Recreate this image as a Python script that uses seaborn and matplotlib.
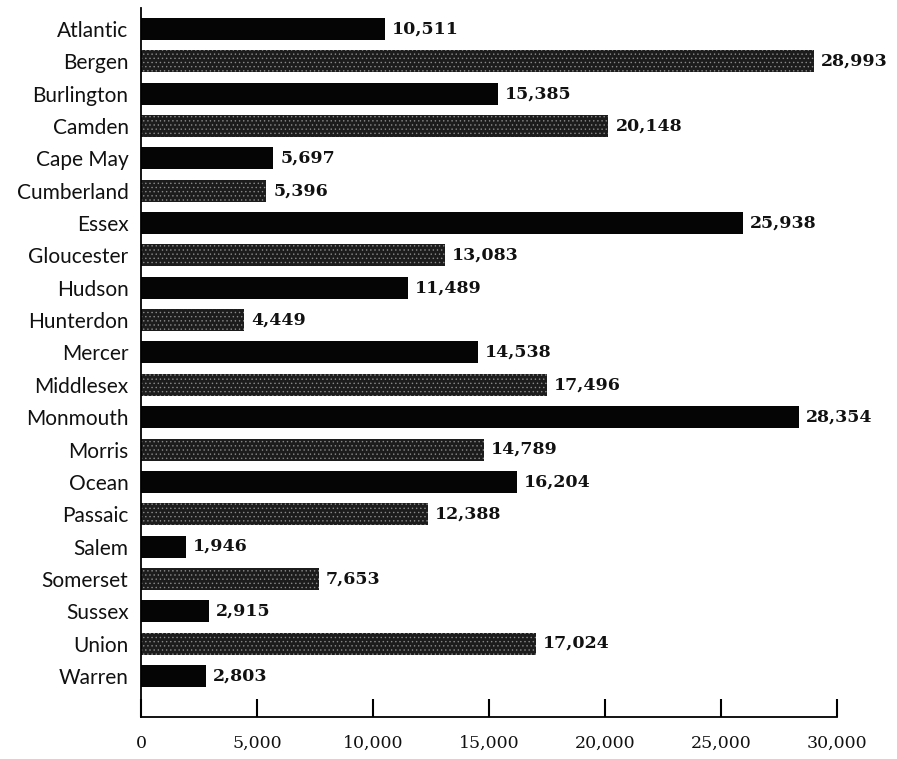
import matplotlib
matplotlib.use("Agg")
import matplotlib.pyplot as plt
import seaborn as sns
import pandas as pd

counties = ["Atlantic", "Bergen", "Burlington", "Camden", "Cape May", "Cumberland",
            "Essex", "Gloucester", "Hudson", "Hunterdon", "Mercer", "Middlesex",
            "Monmouth", "Morris", "Ocean", "Passaic", "Salem", "Somerset",
            "Sussex", "Union", "Warren"]
values = [10511, 28993, 15385, 20148, 5697, 5396, 25938, 13083, 11489, 4449,
          14538, 17496, 28354, 14789, 16204, 12388, 1946, 7653, 2915, 17024, 2803]
tick_values = [0, 5000, 10000, 15000, 20000, 25000, 30000]

SOLID = "#050505"
SCREEN = "#1c1c1c"
shades = [SOLID if i % 2 == 0 else SCREEN for i in range(len(counties))]

df = pd.DataFrame({"county": counties, "value": values})

sns.set_theme(style="white")
plt.rcParams["font.family"] = ["Lato", "DejaVu Sans"]
plt.rcParams["hatch.linewidth"] = 0.5

fig = plt.figure(figsize=(8.97, 7.59), dpi=100)
ax = fig.add_axes([141 / 897, 42 / 759, 696 / 897, 709 / 759])

sns.barplot(data=df, x="value", y="county", hue="county", palette=shades,
            width=0.68, legend=False, ax=ax, saturation=1)

# alternate bars get a speckled screen texture
for i, bar in enumerate(ax.patches):
    bar.set_linewidth(0)
    if i % 2 == 1:
        bar.set_hatch("....")
        bar.set_edgecolor("#8a8a8a")
    else:
        bar.set_edgecolor("none")

for i, v in enumerate(values):
    ax.text(v + 300, i, f"{v:,}", va="center", ha="left",
            fontsize=12.5, fontweight="bold", color="#111111",
            family=["DejaVu Serif"])

ax.set_xlim(0, 30000)
ax.set_ylim(21.27, -0.65)
ax.set_xticks(tick_values)
ax.set_xticklabels([f"{t:,}" for t in tick_values], family=["DejaVu Serif"],
                   fontsize=12.5)
ax.tick_params(axis="x", direction="in", length=13, width=1.5, color="black",
               pad=13, bottom=True, labelcolor="#111111")
ax.tick_params(axis="y", length=0, pad=9, labelsize=15, labelcolor="#111111")
ax.set_xlabel("")
ax.set_ylabel("")
for side in ("top", "right"):
    ax.spines[side].set_visible(False)
for side in ("left", "bottom"):
    ax.spines[side].set_color("black")
    ax.spines[side].set_linewidth(1.3)

fig.savefig("out.png", dpi=100, facecolor="white")
